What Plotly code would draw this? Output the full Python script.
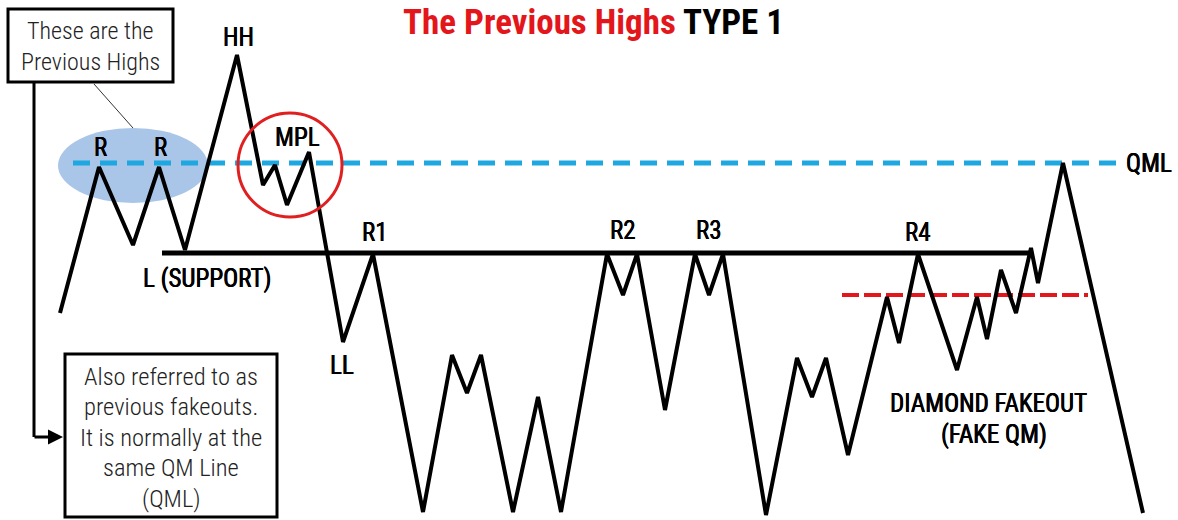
import plotly.graph_objects as go

W, H = 1178, 520

# ---- data: zig-zag price path (x position, price level) ----
path_x = [60, 99, 133, 159, 185, 237, 263, 275, 287, 309, 343, 373, 423, 452, 467, 481,
          513, 538, 561, 607, 623, 637, 665, 695, 709, 723, 766, 797, 812, 826, 848, 887,
          899, 918, 957, 977, 987, 1001, 1016, 1031, 1038, 1063, 1143]
path_price = [207, 353, 275, 353, 270, 465, 335, 355, 315, 368, 178, 266, 8, 165, 127, 165,
              8, 123, 8, 266, 225, 266, 110, 266, 225, 266, 5, 162, 123, 162, 65, 223,
              177, 266, 150, 223, 181, 250, 207, 272, 237, 357, 7]

# key levels
support_level = 267
qml_level = 357
fake_level = 225
support_x = [162, 1031]
qml_x = [73, 1122]
fake_x = [842, 1088]

# point labels: (text, x, price)
point_labels = [
    ("R", 100, 373), ("R", 160, 373), ("HH", 238, 483), ("MPL", 297, 383),
    ("L (SUPPORT)", 207, 242), ("R1", 375, 288), ("LL", 342, 155),
    ("R2", 623, 290), ("R3", 709, 290), ("R4", 918, 288),
    ("DIAMOND FAKEOUT", 988, 117), ("(FAKE QM)", 994, 86),
]

top_box_lines = ["These are the", "Previous Highs"]
bottom_box_lines = ["Also referred to as", "previous fakeouts.", "It is normally at the",
                    "same QM Line", "(QML)"]

FONT = "Roboto Condensed, Roboto, sans-serif"
THICK = "0.35px 0 0 black, -0.35px 0 0 black"


def Y(py):
    return H - py


fig = go.Figure()

# ellipse behind previous highs
fig.add_shape(type="circle", xref="x", yref="y", x0=58, x1=208, y0=Y(203), y1=Y(128),
              fillcolor="#a9c5e8", line=dict(width=0), layer="below")

fig.add_trace(go.Scatter(x=qml_x, y=[qml_level] * 2, mode="lines",
                         line=dict(color="#1fa8e0", width=5, dash="17px,10px"),
                         hoverinfo="skip", showlegend=False))
fig.add_trace(go.Scatter(x=support_x, y=[support_level] * 2, mode="lines",
                         line=dict(color="black", width=5),
                         hoverinfo="skip", showlegend=False))
fig.add_trace(go.Scatter(x=fake_x, y=[fake_level] * 2, mode="lines",
                         line=dict(color="#e3171b", width=4, dash="17px,5px"),
                         hoverinfo="skip", showlegend=False))
fig.add_trace(go.Scatter(x=path_x, y=path_price, mode="lines",
                         line=dict(color="black", width=4),
                         hoverinfo="skip", showlegend=False))

# red circle around MPL
fig.add_shape(type="circle", xref="x", yref="y", x0=238, x1=342, y0=Y(217), y1=Y(113),
              line=dict(color="#e02020", width=3))

# boxes
fig.add_shape(type="rect", xref="x", yref="y", x0=8, x1=173, y0=Y(82), y1=Y(9),
              line=dict(color="black", width=3), fillcolor="white")
fig.add_shape(type="rect", xref="x", yref="y", x0=65, x1=277, y0=Y(517), y1=Y(354),
              line=dict(color="black", width=3), fillcolor="white")
# connector lines
fig.add_shape(type="line", xref="x", yref="y", x0=34, x1=34, y0=Y(83), y1=Y(437),
              line=dict(color="black", width=3))
fig.add_shape(type="line", xref="x", yref="y", x0=94, x1=133, y0=Y(84), y1=Y(128),
              line=dict(color="#333333", width=1))
fig.add_annotation(x=63, y=Y(437), ax=33, ay=Y(437), xref="x", yref="y", axref="x", ayref="y",
                   text="", showarrow=True, arrowhead=2, arrowsize=1, arrowwidth=3,
                   arrowcolor="black")

for t, x, p in point_labels:
    fig.add_annotation(x=x, y=p, text=t, showarrow=False, xref="x", yref="y",
                       font=dict(family=FONT, size=25, color="black", weight=400, shadow=THICK))

fig.add_annotation(x=1124, y=qml_level, text="QML", showarrow=False, xanchor="left",
                   font=dict(family=FONT, size=25, color="black", weight=400, shadow=THICK))

for i, t in enumerate(top_box_lines):
    fig.add_annotation(x=90, y=Y(31 + i * 31), text=t, showarrow=False,
                       font=dict(family=FONT, size=24, color="#222222", weight=300))
for i, t in enumerate(bottom_box_lines):
    fig.add_annotation(x=171, y=Y(376 + i * 30.5), text=t, showarrow=False,
                       font=dict(family=FONT, size=24.5, color="#222222", weight=300))

fig.add_annotation(x=593, y=Y(22),
                   text="<span style='color:#e3161b'>The Previous Highs</span> TYPE 1",
                   showarrow=False, font=dict(family=FONT, size=35, color="black", weight=700))

fig.update_xaxes(range=[0, W], visible=False, fixedrange=True)
fig.update_yaxes(range=[0, H], visible=False, fixedrange=True)
fig.update_layout(width=W, height=H, margin=dict(l=0, r=0, t=0, b=0),
                  paper_bgcolor="white", plot_bgcolor="white", showlegend=False)

fig.write_html("out.html", config={"displayModeBar": False},
               post_script="document.body.style.margin='0';")
